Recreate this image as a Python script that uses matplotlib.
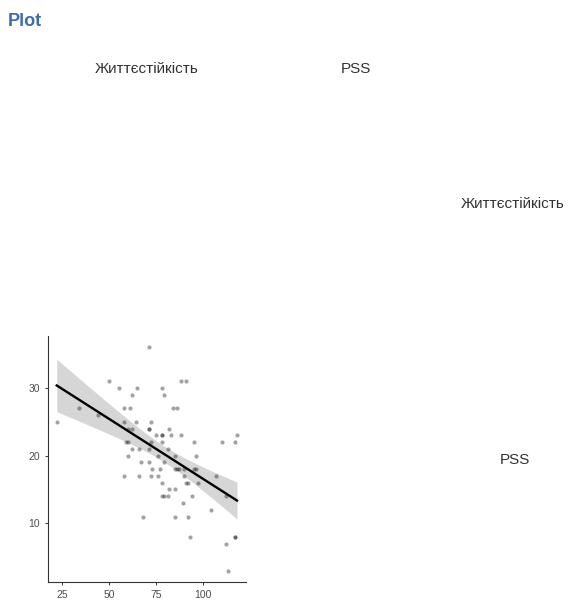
import numpy as np
import matplotlib
matplotlib.use("Agg")
import matplotlib.pyplot as plt

plt.rcParams['font.family'] = ['Liberation Sans', 'DejaVu Sans']

title = "Plot"
var_names = ["Життєстійкість", "PSS"]

# x: Життєстійкість, y: PSS
x_vals = [22, 34, 44, 50, 55, 58, 58, 58, 59, 60, 60, 61, 62, 60, 62, 62, 64, 65,
          66, 66, 67, 68, 71, 71, 71, 72, 71, 71, 72, 72, 73, 75, 76, 76, 77, 78,
          78, 78, 78, 78, 78, 79, 79, 79, 81, 81, 82, 82, 83, 84, 86, 85, 85, 85,
          85, 86, 87, 88, 88, 89, 90, 90, 91, 91, 92, 92, 93, 94, 95, 95, 96, 96,
          97, 104, 107, 110, 112, 112, 113, 117, 118, 117, 117]
y_vals = [25, 27, 26, 31, 30, 27, 25, 17, 22, 22, 20, 27, 29, 24, 24, 21, 25, 30,
          21, 17, 19, 11, 36, 24, 24, 25, 19, 21, 22, 17, 18, 23, 20, 17, 18, 30,
          23, 23, 22, 16, 14, 29, 19, 14, 14, 21, 24, 15, 23, 27, 27, 20, 18, 15,
          11, 18, 18, 31, 23, 13, 17, 18, 31, 16, 16, 11, 8, 14, 22, 18, 18, 20,
          16, 12, 17, 22, 7, 14, 3, 22, 23, 8, 8]
x_ticks = [25, 50, 75, 100]
y_ticks = [10, 20, 30]

x = np.array(x_vals, dtype=float)
y = np.array(y_vals, dtype=float)

W, H = 568, 602
fig = plt.figure(figsize=(W / 100, H / 100), dpi=100)

left, right, top, bottom = 47.7, 246, 336, 582
ax = fig.add_axes([left / W, 1 - bottom / H, (right - left) / W, (bottom - top) / H])

# regression with 95% CI
n = len(x)
b1, b0 = np.polyfit(x, y, 1)
xs = np.linspace(x.min(), x.max(), 100)
yhat = b0 + b1 * xs
resid = y - (b0 + b1 * x)
s = np.sqrt(np.sum(resid ** 2) / (n - 2))
sxx = np.sum((x - x.mean()) ** 2)
se = s * np.sqrt(1 / n + (xs - x.mean()) ** 2 / sxx)
t = 1.99
ax.fill_between(xs, yhat - t * se, yhat + t * se, color='#999999', alpha=0.4, lw=0, zorder=1)
ax.scatter(x, y, s=9, color='black', alpha=0.36, lw=0, zorder=2)
ax.plot(xs, yhat, color='black', lw=1.7, zorder=3)

xr = x.max() - x.min()
yr = y.max() - y.min()
ax.set_xlim(x.min() - 0.05 * xr, x.max() + 0.05 * xr)
ax.set_ylim(y.min() - 0.05 * yr, y.max() + 0.05 * yr)
ax.set_xticks(x_ticks)
ax.set_yticks(y_ticks)
for sp in ['top', 'right']:
    ax.spines[sp].set_visible(False)
for sp in ['left', 'bottom']:
    ax.spines[sp].set_color('#333333')
    ax.spines[sp].set_linewidth(0.8)
ax.tick_params(length=2.5, width=0.7, color='#333333', labelsize=7.5, labelcolor='#4d4d4d', pad=3)

# title
fig.text(8 / W, 1 - 21 / H, title, fontsize=13, fontweight='bold', color='#3e6da9',
         ha='left', va='center')
# column headers
fig.text(147 / W, 1 - 69 / H, var_names[0], fontsize=11, color='#333333', ha='center', va='center')
fig.text(356 / W, 1 - 69 / H, var_names[1], fontsize=11, color='#333333', ha='center', va='center')
# row labels
fig.text(461 / W, 1 - 204 / H, var_names[0], fontsize=11, color='#333333', ha='left', va='center')
fig.text(515 / W, 1 - 460 / H, var_names[1], fontsize=11, color='#333333', ha='center', va='center')

fig.savefig("out.png", dpi=100, facecolor='white')
